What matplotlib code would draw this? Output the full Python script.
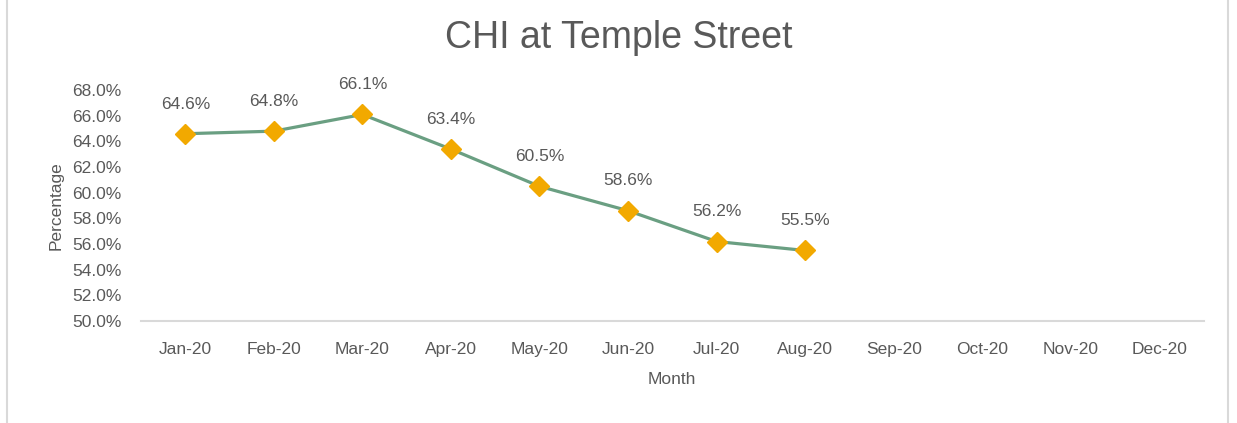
import numpy as np
import matplotlib
matplotlib.use("Agg")
import matplotlib.pyplot as plt
from matplotlib.patches import Rectangle

plt.rcParams['font.family'] = ['Liberation Sans', 'DejaVu Sans']

months = ['Jan-20', 'Feb-20', 'Mar-20', 'Apr-20', 'May-20', 'Jun-20',
          'Jul-20', 'Aug-20', 'Sep-20', 'Oct-20', 'Nov-20', 'Dec-20']
values = [0.646, 0.648, 0.661, 0.634, 0.605, 0.586, 0.562, 0.555]
yticks = [0.50, 0.52, 0.54, 0.56, 0.58, 0.60, 0.62, 0.64, 0.66, 0.68]

txt = '#595959'
fig = plt.figure(figsize=(12.37, 4.23), dpi=100)
ax = fig.add_axes([0.114, 0.241, 0.859, 0.546])

# outer chart border
fig.patches.append(Rectangle((7/1237, -0.1), (1228-7)/1237, 1.2, transform=fig.transFigure,
                             fill=False, edgecolor='#d9d9d9', linewidth=1.5))

x = np.arange(len(months))
ax.plot(x[:len(values)], values, color='#6a9f82', linewidth=2.3, zorder=2)
ax.plot(x[:len(values)], values, linestyle='none', marker='D', markersize=10,
        color='#f2a900', zorder=3)
for xi, v in zip(x, values):
    ax.annotate('%.1f%%' % (v*100), (xi, v), xytext=(0, 16), textcoords='offset points',
                ha='center', va='bottom', fontsize=12.5, color=txt)

ax.set_xlim(-0.5, len(months) - 0.5)
ax.set_ylim(0.50, 0.68)
ax.set_xticks(x)
ax.set_xticklabels(months)
ax.set_yticks(yticks)
ax.set_yticklabels(['%.1f%%' % (t*100) for t in yticks])
ax.tick_params(axis='both', length=0, labelsize=12.5, colors=txt)
ax.tick_params(axis='x', pad=15)
ax.tick_params(axis='y', pad=14)
for s in ['top', 'right', 'left']:
    ax.spines[s].set_visible(False)
ax.spines['bottom'].set_color('#d9d9d9')
ax.spines['bottom'].set_linewidth(1.5)

ax.set_xlabel('Month', fontsize=12.5, color=txt, labelpad=11)
ax.set_ylabel('Percentage', fontsize=12.5, color=txt, labelpad=6)
fig.text(0.5, 0.91, 'CHI at Temple Street', ha='center', va='center', fontsize=27, color=txt)

fig.savefig('out.png', dpi=100)
